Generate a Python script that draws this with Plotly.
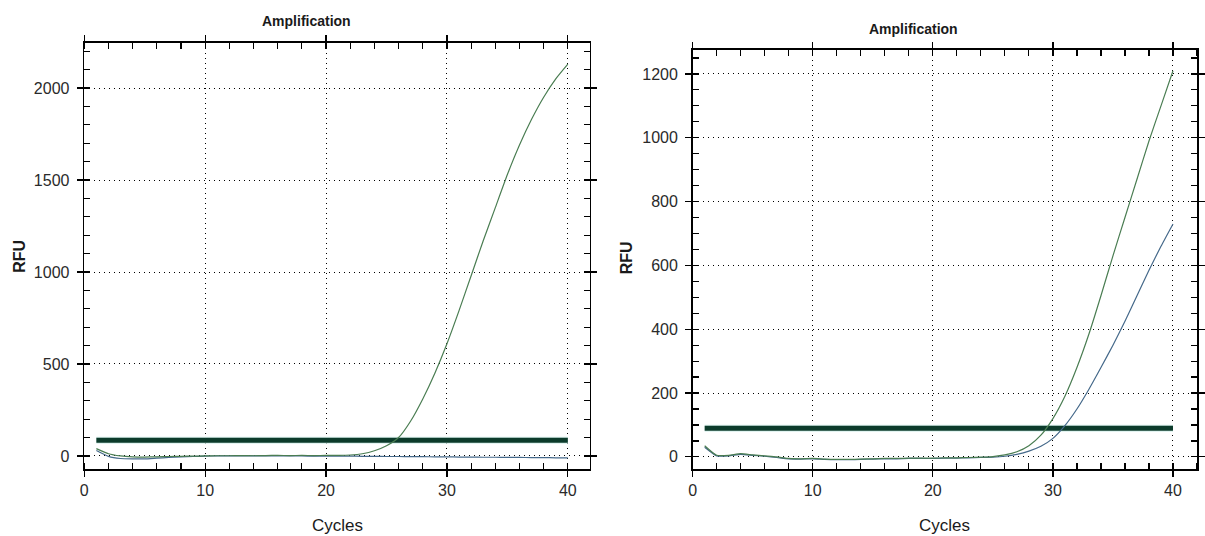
import plotly.graph_objects as go

# ---------------- data ----------------
cycles = list(range(1, 41))

left_green = [40, 12, 0, -5, -6, -5, -3, -2, -1, 0,
              1, 1, 2, 1, 2, 3, 2, 3, 2, 3,
              3, 5, 12, 28, 55, 100, 190, 310, 450, 610,
              790, 980, 1170, 1350, 1530, 1690, 1830, 1950, 2050, 2130]
left_blue = [30, -2, -14, -16, -16, -12, -8, -5, -3, -1,
             0, 0, 1, 0, 0, 1, 0, 0, -1, 0,
             -1, -1, -2, -2, -3, -3, -4, -4, -5, -5,
             -6, -6, -7, -7, -8, -8, -9, -9, -10, -10]

right_green = [35, 5, 5, 10, 6, 3, 0, -5, -6, -5,
               -7, -8, -8, -7, -6, -5, -5, -4, -4, -4,
               -3, -3, -2, -1, 1, 6, 16, 35, 68, 120,
               190, 280, 385, 505, 630, 750, 870, 990, 1100, 1210]
right_blue = [30, 3, 3, 8, 5, 2, -2, -6, -7, -6,
              -8, -9, -9, -8, -7, -6, -6, -5, -5, -5,
              -4, -4, -3, -2, -1, 2, 8, 18, 33, 58,
              98, 150, 212, 280, 350, 425, 505, 585, 660, 730]

threshold_x = [1, 40]
left_threshold = 85
right_threshold = 90

x_ticks = [0, 10, 20, 30, 40]
left_y_ticks = [0, 500, 1000, 1500, 2000]
right_y_ticks = [0, 200, 400, 600, 800, 1000, 1200]

title_text = "Amplification"
x_title = "Cycles"
y_title = "RFU"

# ---------------- style ----------------
W, H = 1205, 536
FONT = "Liberation Sans, Arial, sans-serif"
GREEN = "#4a7d52"
BLUE = "#45698a"
THR = "#0c3b2b"
HALO = "#d8f0ec"

def px_x(p):
    return p / W

def px_y(p):
    return 1 - p / H

fig = go.Figure()

def add_panel(xa, ya, g, b, thr):
    xs = "x" if xa == 1 else "x%d" % xa
    ys = "y" if ya == 1 else "y%d" % ya
    fig.add_trace(go.Scatter(x=threshold_x, y=[thr, thr], mode="lines",
                             line=dict(color=HALO, width=7), xaxis=xs, yaxis=ys,
                             hoverinfo="skip"))
    fig.add_trace(go.Scatter(x=threshold_x, y=[thr, thr], mode="lines",
                             line=dict(color=THR, width=5), xaxis=xs, yaxis=ys))
    fig.add_trace(go.Scatter(x=cycles, y=b, mode="lines",
                             line=dict(color=BLUE, width=1.2, shape="spline", smoothing=0.5),
                             xaxis=xs, yaxis=ys))
    fig.add_trace(go.Scatter(x=cycles, y=g, mode="lines",
                             line=dict(color=GREEN, width=1.2, shape="spline", smoothing=0.5),
                             xaxis=xs, yaxis=ys))

add_panel(1, 1, left_green, left_blue, left_threshold)
add_panel(2, 2, right_green, right_blue, right_threshold)

tickfont = dict(family=FONT, size=16, color="#2a2a2a")

def xaxis(domain, rng, anchor):
    return dict(domain=domain, range=rng, anchor=anchor,
                tickvals=x_ticks, ticks="outside", ticklen=6, tickwidth=1.2,
                tickcolor="black",
                minor=dict(dtick=2, tick0=0, ticks="inside", ticklen=6,
                           tickcolor="black", tickwidth=1.2, showgrid=False),
                showline=True, linecolor="black", linewidth=1.6, mirror="ticks",
                showgrid=True, gridcolor="black", gridwidth=1, griddash="1px,4px",
                zeroline=False, tickfont=tickfont, fixedrange=True)

def yaxis(domain, rng, anchor, ticks, minor_dt):
    return dict(domain=domain, range=rng, anchor=anchor,
                tickvals=ticks, ticks="outside", ticklen=6, tickwidth=1.2,
                tickcolor="black",
                minor=dict(dtick=minor_dt, tick0=0, ticks="inside", ticklen=6,
                           tickcolor="black", tickwidth=1.2, showgrid=False),
                showline=True, linecolor="black", linewidth=1.6, mirror="ticks",
                showgrid=True, gridcolor="black", gridwidth=1, griddash="1px,4px",
                zeroline=False, tickfont=tickfont, ticklabelstandoff=4,
                fixedrange=True)

fig.update_layout(
    width=W, height=H,
    margin=dict(l=0, r=0, t=0, b=0),
    paper_bgcolor="white", plot_bgcolor="white",
    showlegend=False,
    xaxis=xaxis([px_x(81), px_x(591)], [0, 41.8], "y"),
    yaxis=yaxis([px_y(469), px_y(43)], [-71, 2245], "x", left_y_ticks, 100),
    xaxis2=xaxis([px_x(695), px_x(1204)], [0, 42.0], "y2"),
    yaxis2=yaxis([px_y(469), px_y(50)], [-38, 1275], "x2", right_y_ticks, 50),
)

ann = []
def label(text, xp, yp, size, bold=False, angle=0):
    ann.append(dict(text="<b>%s</b>" % text if bold else text,
                    x=px_x(xp), y=px_y(yp), xref="paper", yref="paper",
                    showarrow=False, textangle=angle, xanchor="center", yanchor="middle",
                    font=dict(family=FONT, size=size, color="#1a1a1a")))

label(title_text, 305, 21, 14, bold=True)
label(title_text, 918, 29, 14, bold=True)
label(x_title, 337, 525, 17)
label(x_title, 949, 525, 17)
label(y_title, 15, 256, 16, bold=True, angle=-90)
label(y_title, 628, 258, 16, bold=True, angle=-90)
fig.update_layout(annotations=ann)

fig.write_html("out.html",
               config={"displayModeBar": False, "staticPlot": True},
               post_script="document.body.style.margin='0';document.body.style.overflow='hidden';")
